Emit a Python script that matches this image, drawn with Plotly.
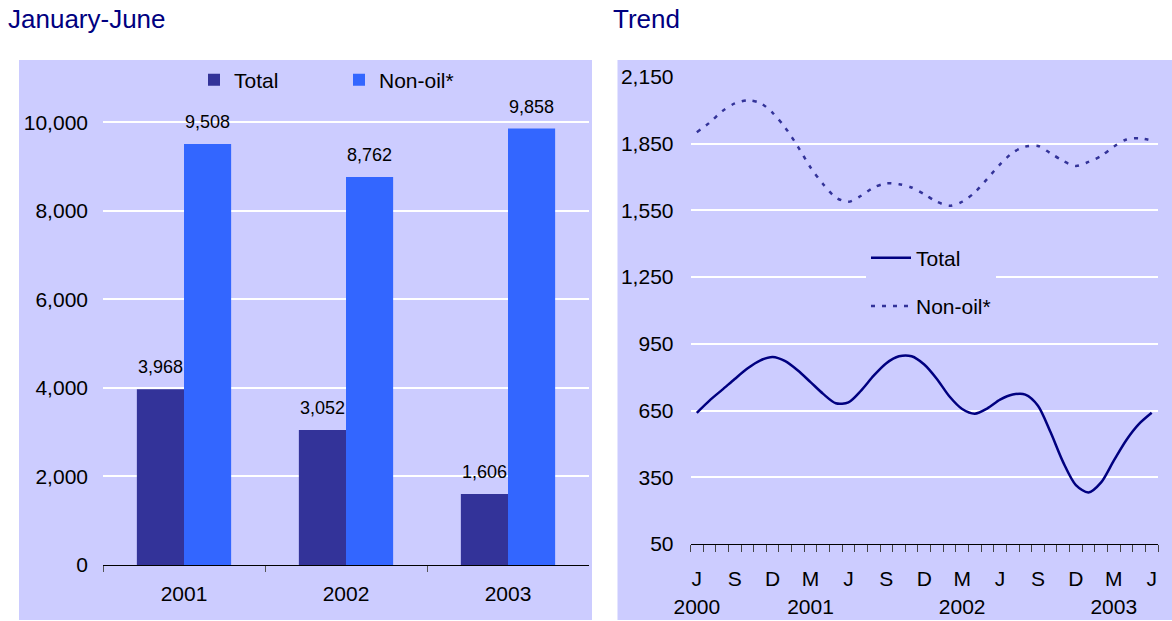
import plotly.graph_objects as go

# ---------------- data ----------------
bar_years = ["2001", "2002", "2003"]
bar_total = [3968, 3052, 1606]
bar_nonoil = [9508, 8762, 9858]

# monthly trend, June 2000 .. June 2003 (37 months)
trend_total = [640, 695, 743, 792, 839, 875, 891, 872, 830, 778, 725, 683,
               687, 740, 807, 863, 894, 894, 857, 792, 713, 657, 636, 660,
               699, 722, 722, 672, 552, 417, 315, 282, 327, 425, 518, 590, 640]
trend_nonoil = [1902, 1944, 1996, 2031, 2045, 2034, 1989, 1922, 1837, 1743, 1668, 1608,
                1589, 1616, 1653, 1672, 1668, 1653, 1623, 1589, 1571, 1589, 1631, 1693,
                1757, 1810, 1837, 1840, 1807, 1772, 1750, 1768, 1795, 1837, 1869, 1875, 1865]
month_labels = ["J", "S", "D", "M", "J", "S", "D", "M", "J", "S", "D", "M", "J"]
year_labels = ["2000", "", "", "2001", "", "", "", "2002", "", "", "", "2003", ""]
y_left_ticks = [0, 2000, 4000, 6000, 8000, 10000]
y_right_ticks = [50, 350, 650, 950, 1250, 1550, 1850, 2150]

# ---------------- style ----------------
W, H = 1172, 621
BG = "#CCCCFF"
C_TOTAL = "#333399"
C_NONOIL = "#3366FF"
C_LINE = "#000080"
FONT = "Liberation Sans, Arial, sans-serif"
TICK = 21

def px_x(v):
    return v / W

def px_y(v):
    return 1 - v / H

fig = go.Figure()

fig.add_trace(go.Bar(x=bar_years, y=bar_total, name="Total", marker_color=C_TOTAL,
                     marker_line_width=0, xaxis="x", yaxis="y", legend="legend"))
fig.add_trace(go.Bar(x=bar_years, y=bar_nonoil, name="Non-oil*", marker_color=C_NONOIL,
                     marker_line_width=0, xaxis="x", yaxis="y", legend="legend"))

idx = list(range(len(trend_total)))
fig.add_trace(go.Scatter(x=idx, y=trend_total, name="Total", mode="lines",
                         line=dict(color=C_LINE, width=2.5, shape="spline", smoothing=0.8),
                         xaxis="x2", yaxis="y2", legend="legend2", legendgroup="a"))
fig.add_trace(go.Scatter(x=idx, y=trend_nonoil, name="Non-oil*", mode="lines",
                         line=dict(color=C_TOTAL, width=2.5, shape="spline", smoothing=0.8,
                                   dash="4px,7px"),
                         xaxis="x2", yaxis="y2", legend="legend2", legendgroup="b"))

annotations = []
for i, (vt, vn) in enumerate(zip(bar_total, bar_nonoil)):
    annotations.append(dict(x=i, y=vt, xref="x", yref="y", text=f"{vt:,}", showarrow=False,
                            xshift=-23.5, yshift=22, font=dict(size=18, color="black")))
    annotations.append(dict(x=i, y=vn, xref="x", yref="y", text=f"{vn:,}", showarrow=False,
                            xshift=23.5, yshift=22, font=dict(size=18, color="black")))

annotations.append(dict(x=px_x(6), y=px_y(2), xref="paper", yref="paper", xanchor="left",
                        yanchor="top", text="January-June", showarrow=False,
                        font=dict(size=26, color=C_LINE)))
annotations.append(dict(x=px_x(611), y=px_y(2), xref="paper", yref="paper", xanchor="left",
                        yanchor="top", text="Trend", showarrow=False,
                        font=dict(size=26, color=C_LINE)))

shapes = [
    dict(type="rect", xref="paper", yref="paper", x0=px_x(19), x1=px_x(592),
         y0=px_y(620), y1=px_y(60), fillcolor=BG, line=dict(width=0), layer="below"),
    dict(type="rect", xref="paper", yref="paper", x0=px_x(617.5), x1=px_x(1172),
         y0=px_y(620), y1=px_y(60), fillcolor=BG, line=dict(width=0), layer="below"),
]

ticktext = [m + ("<br>" + y if y else "") for m, y in zip(month_labels, year_labels)]
tickvals = [i * 3 for i in range(len(month_labels))]

fig.update_layout(
    width=W, height=H,
    margin=dict(l=0, r=0, t=0, b=0, autoexpand=False),
    paper_bgcolor="white",
    plot_bgcolor=BG,
    font=dict(family=FONT, size=20, color="black"),
    barmode="group", bargap=0.418, bargroupgap=0,
    showlegend=True,
    shapes=shapes,
    annotations=annotations,
    xaxis=dict(domain=[px_x(103), px_x(589)], anchor="y", type="category",
               range=[-0.5, 2.5], automargin=False,
               tickson="boundaries", ticks="outside", ticklen=6, tickcolor="#555",
               showline=True, linecolor="black", linewidth=1, showgrid=False,
               ticklabelstandoff=10, tickfont=dict(size=TICK)),
    yaxis=dict(domain=[px_y(565), px_y(78)], anchor="x", range=[0, 11000], automargin=False,
               tickvals=y_left_ticks, tickformat=",d", showgrid=True, gridcolor="white",
               gridwidth=1.5, zeroline=False, showline=False, ticks="",
               ticklabelstandoff=14, tickfont=dict(size=TICK)),
    xaxis2=dict(domain=[px_x(690.5), px_x(1158)], anchor="y2", range=[-0.5, 36.5],
                automargin=False,
                tickvals=tickvals, ticktext=ticktext, ticks="", showgrid=False,
                showline=True, linecolor="black", linewidth=1, zeroline=False,
                ticklabelstandoff=16, tickfont=dict(size=TICK),
                minor=dict(tickmode="array", tickvals=[i - 0.5 for i in range(38)],
                           ticks="outside", ticklen=7, tickcolor="#444", showgrid=False)),
    yaxis2=dict(domain=[px_y(544), px_y(77)], anchor="x2", range=[50, 2150], automargin=False,
                tickvals=y_right_ticks, tickformat=",d", showgrid=True, gridcolor="white",
                gridwidth=1.5, zeroline=False, showline=False, ticks="",
                ticklabelstandoff=16, tickfont=dict(size=TICK)),
    legend=dict(orientation="h", x=px_x(194), y=px_y(80), xanchor="left", yanchor="middle",
                bgcolor="rgba(0,0,0,0)", font=dict(size=21), entrywidth=100,
                traceorder="normal"),
    legend2=dict(orientation="v", x=px_x(866), y=px_y(282), xanchor="left", yanchor="middle",
                 bgcolor=BG, font=dict(size=21), traceorder="grouped", tracegroupgap=18,
                 itemwidth=40),
)

fig.write_html("out.html", config={"displayModeBar": False},
               post_script="document.body.style.margin='0';document.body.style.overflow='hidden';")
